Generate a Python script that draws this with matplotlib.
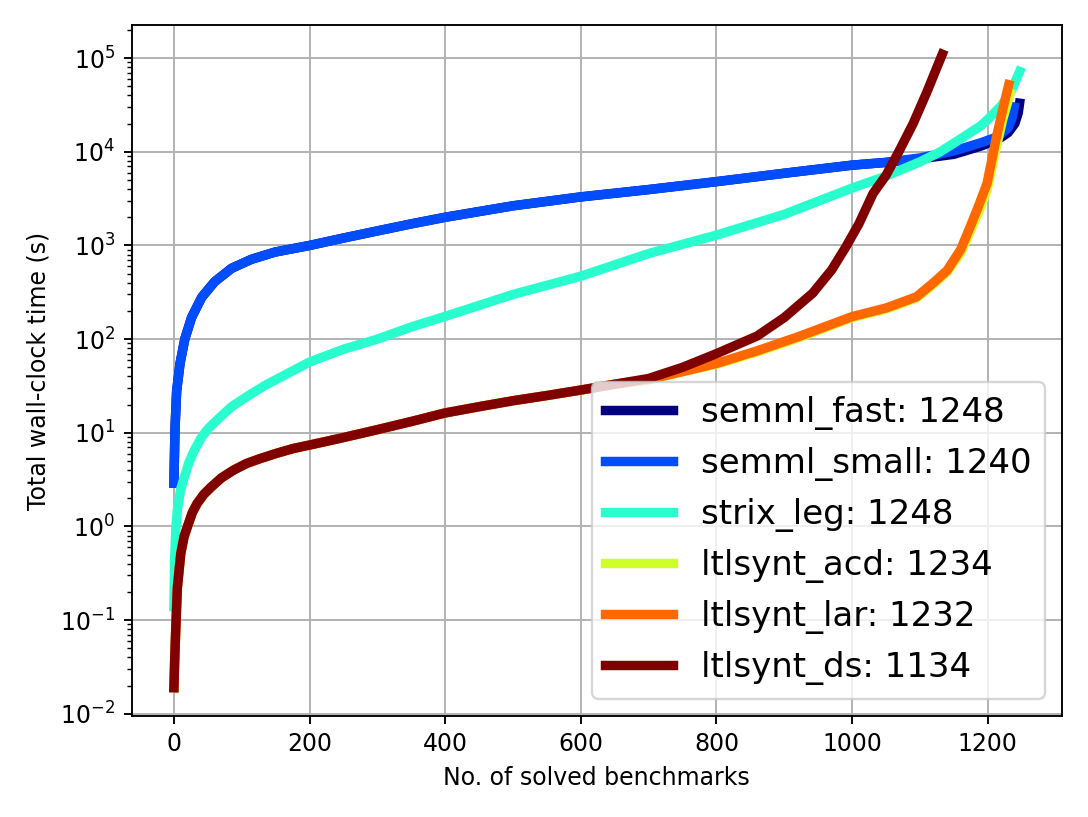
import numpy as np
import matplotlib
matplotlib.use('Agg')
import matplotlib.pyplot as plt

# cumulative wall-clock time vs. number of solved benchmarks
labels = ['semml_fast', 'semml_small', 'strix_leg', 'ltlsynt_acd', 'ltlsynt_lar', 'ltlsynt_ds']
solved = [1248, 1240, 1248, 1234, 1232, 1134]

fast_x = [0, 1.5, 4, 9, 16, 26, 41, 60, 85, 114, 149, 200, 250, 300, 350, 400, 500,
          600, 700, 800, 900, 1000, 1050, 1100, 1150, 1190, 1215, 1230, 1240, 1245, 1247]
fast_y = [2.9, 10.7, 28, 55, 100, 170, 280, 410, 570, 710, 850, 1000, 1200, 1430, 1700,
          2000, 2650, 3300, 3950, 4800, 5900, 7200, 7700, 8400, 9400, 11500, 13500, 16000,
          20000, 26000, 33000]

small_x = [0, 1.5, 4, 9, 16, 26, 41, 60, 85, 114, 149, 200, 250, 300, 350, 400, 500,
           600, 700, 800, 900, 1000, 1050, 1100, 1150, 1190, 1215, 1230, 1236, 1239]
small_y = [2.9, 10.7, 28, 55, 100, 170, 280, 410, 570, 710, 850, 1000, 1200, 1430, 1700,
           2000, 2650, 3300, 3950, 4800, 5900, 7200, 7700, 8600, 10200, 12500, 14500, 18000,
           23000, 30000]

strix_x = [0, 1, 3, 5, 10, 15, 22, 30, 40, 50, 65, 85, 110, 134, 165, 200, 250, 300, 350,
           400, 500, 600, 700, 800, 900, 1000, 1050, 1100, 1130, 1165, 1190, 1205, 1220,
           1235, 1247]
strix_y = [0.14, 0.45, 1.0, 1.5, 2.5, 3.3, 4.8, 6.5, 8.8, 11, 14, 19, 25, 32, 42, 57, 78,
           100, 135, 175, 300, 470, 820, 1290, 2150, 4100, 5500, 7800, 10000, 14500, 19000,
           24000, 31000, 45000, 72000]

acd_x = [0, 1, 2.4, 5, 10, 15, 20, 27, 34, 44, 54, 70, 88, 107, 127, 150, 176, 200, 244,
         300, 350, 400, 450, 500, 550, 600, 650, 700, 750, 800, 860, 922, 1000, 1050, 1095,
         1120, 1140, 1160, 1174, 1187, 1199, 1213, 1222, 1233]
acd_y = [0.019, 0.035, 0.07, 0.22, 0.51, 0.78, 1.0, 1.4, 1.75, 2.2, 2.6, 3.3, 4.0, 4.7,
         5.3, 6.0, 6.8, 7.4, 8.7, 10.8, 13.2, 16.3, 19, 22, 25, 28.6, 33, 37, 45, 54, 73,
         104, 170, 210, 275, 385, 520, 830, 1400, 2300, 3900, 11500, 22000, 42000]

lar_x = [0, 1, 2.4, 5, 10, 15, 20, 27, 34, 44, 54, 70, 88, 107, 127, 150, 176, 200, 244,
         300, 350, 400, 450, 500, 550, 600, 650, 700, 750, 800, 860, 922, 1000, 1050, 1095,
         1120, 1140, 1160, 1174, 1187, 1199, 1213, 1222, 1231]
lar_y = [0.019, 0.035, 0.07, 0.22, 0.51, 0.78, 1.0, 1.4, 1.75, 2.2, 2.6, 3.3, 4.0, 4.7,
         5.3, 6.0, 6.8, 7.4, 8.7, 10.8, 13.2, 16.3, 19, 22, 25, 28.6, 33, 37, 45, 55, 75,
         107, 174, 215, 283, 400, 540, 900, 1570, 2700, 4600, 14500, 28000, 52000]

ds_x = [0, 1, 2.4, 5, 10, 15, 20, 27, 34, 44, 54, 70, 88, 107, 127, 150, 176, 200, 244,
        300, 350, 400, 450, 500, 550, 600, 650, 700, 750, 800, 860, 900, 942, 970, 991,
        1010, 1031, 1050, 1070, 1090, 1110, 1133]
ds_y = [0.019, 0.035, 0.07, 0.22, 0.51, 0.78, 1.0, 1.4, 1.75, 2.2, 2.6, 3.3, 4.0, 4.7,
        5.3, 6.0, 6.8, 7.4, 8.7, 10.8, 13.2, 16.3, 19, 22, 25, 28.6, 33, 38, 50, 70, 108,
        170, 310, 550, 970, 1700, 3600, 5600, 10400, 20000, 43000, 110000]

series = [(fast_x, fast_y), (small_x, small_y), (strix_x, strix_y),
          (acd_x, acd_y), (lar_x, lar_y), (ds_x, ds_y)]
colors = plt.cm.jet(np.linspace(0, 1, len(series)))

fig, ax = plt.subplots(figsize=(1088 / 170, 817 / 170), dpi=170)
fig.subplots_adjust(left=0.121, right=0.976, top=0.969, bottom=0.124)

for (xs, ys), name, n, c in zip(series, labels, solved, colors):
    ax.plot(xs, ys, color=c, linewidth=4, label=f'{name}: {n}')

ax.set_yscale('log')
ax.set_ylim(10 ** -2.02, 10 ** 5.35)
ax.set_xlabel('No. of solved benchmarks')
ax.set_ylabel('Total wall-clock time (s)')
ax.grid(True)
ax.legend(loc='lower right', fontsize='x-large')

fig.savefig('out.png', dpi=170)
